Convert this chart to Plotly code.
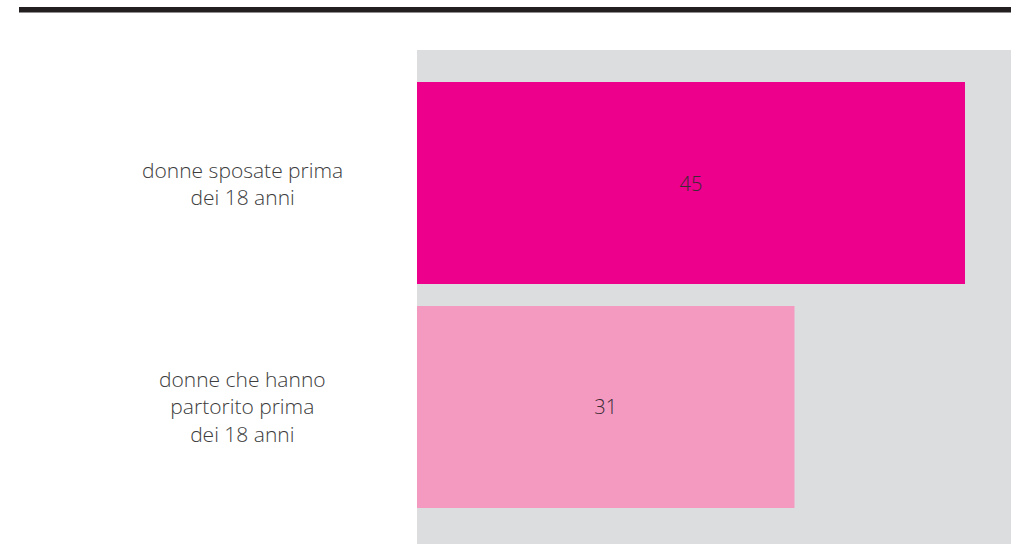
import plotly.graph_objects as go

categories = ["donne sposate prima<br>dei 18 anni",
              "donne che hanno<br>partorito prima<br>dei 18 anni"]
values = [45, 31]
bar_colors = ["#EC008C", "#F49AC1"]

W, H = 1011, 544
ML, MR, MT, MB = 417, 0, 50, 0
FONT = "Open Sans"

fig = go.Figure()
fig.add_trace(go.Bar(
    x=values, y=[0, 1], orientation="h",
    marker=dict(color=bar_colors, line=dict(width=0)),
    width=0.902,
    text=[str(v) for v in values], textposition="inside",
    insidetextanchor="middle",
    textfont=dict(family=FONT, size=20, color="#3a2a33", weight=300),
    hoverinfo="skip",
))

for i, c in enumerate(categories):
    fig.add_annotation(
        x=-0.2946, xref="paper", y=i, yref="y",
        text=c, showarrow=False, align="center",
        xanchor="center", yanchor="middle",
        font=dict(family=FONT, size=21, color="#3c3c3c", weight=300),
    )

pw = W - ML - MR
ph = H - MT - MB
fig.add_shape(type="line", xref="paper", yref="paper",
              x0=(19 - ML) / pw, x1=1.0,
              y0=(H - MB - 9.8) / ph, y1=(H - MB - 9.8) / ph,
              line=dict(color="#231f20", width=5.5))

fig.update_layout(
    width=W, height=H,
    margin=dict(l=ML, r=MR, t=MT, b=MB),
    paper_bgcolor="white",
    plot_bgcolor="#DCDDDE",
    showlegend=False,
    xaxis=dict(range=[0, pw * 45 / 548], showgrid=False, zeroline=False,
               showticklabels=False, ticks=""),
    yaxis=dict(range=[1.612, -0.594], showgrid=False, zeroline=False,
               showticklabels=False, ticks=""),
)

fig.write_html("out.html")
